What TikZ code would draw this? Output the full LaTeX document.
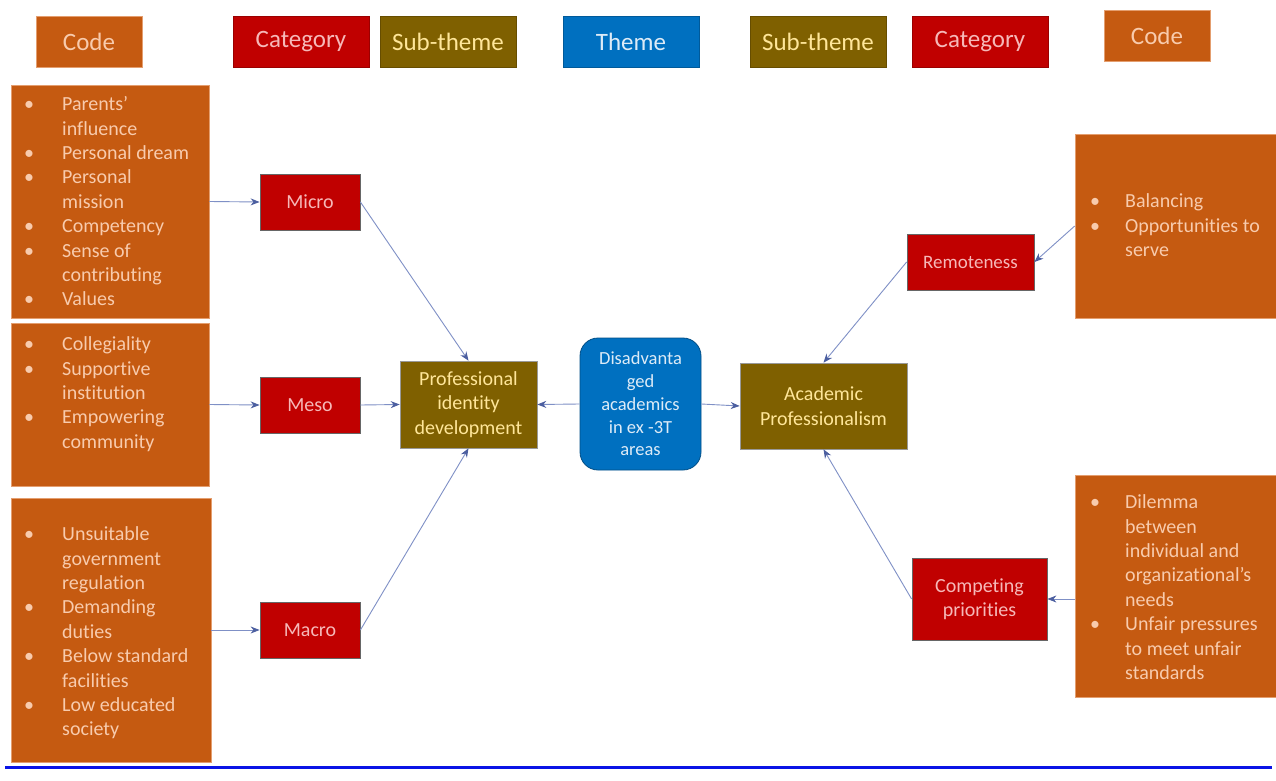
\documentclass[tikz,border=0pt]{standalone}
\usepackage{fontspec}
\setmainfont[Ligatures={NoCommon,NoRequired,NoContextual,NoRare}]{Carlito}
\usetikzlibrary{arrows.meta,calc}
\definecolor{codeC}{HTML}{C55A11}
\definecolor{codeT}{HTML}{F8CBAD}
\definecolor{catC}{HTML}{C00000}
\definecolor{catT}{HTML}{F6B8B8}
\definecolor{subC}{HTML}{7F6000}
\definecolor{subT}{HTML}{FFE699}
\definecolor{themeC}{HTML}{0070C0}
\definecolor{themeT}{HTML}{DDEBF7}
\definecolor{lineC}{HTML}{7F90C6}
\definecolor{tipC}{HTML}{4C5FA0}
\definecolor{rule}{HTML}{0A14E6}
\newcommand{\bulL}[1]{\makebox[38pt][l]{\textbullet}#1}
\newcommand{\conL}[1]{\hspace*{38pt}#1}
\newcommand{\bulR}[1]{\makebox[35pt][l]{\textbullet}#1}
\newcommand{\conR}[1]{\hspace*{35pt}#1}
\begin{document}
\begin{tikzpicture}[x=1pt,y=-1pt,
  base/.style={inner sep=0pt, align=center},
  hdr/.style={base, minimum height=51pt, font=\fontsize{25}{30}\selectfont},
  codebox/.style={base, fill=codeC, draw=codeT!60!codeC, line width=0.6pt},
  codehdr/.style={hdr, codebox, text=codeT, minimum width=106pt},
  cathdr/.style={hdr, fill=catC, draw=catC!80!black, line width=0.6pt, text=catT, minimum width=136pt},
  subhdr/.style={hdr, fill=subC, draw=subC!80!black, line width=0.6pt, text=subT, minimum width=136pt},
  themehdr/.style={hdr, fill=themeC, draw=themeC!80!black, line width=0.6pt, text=themeT, minimum width=136pt},
  listtxt/.style={inner sep=0pt, anchor=north west, align=left, text=codeT, font=\fontsize{20}{24.4}\selectfont},
  catbox/.style={base, fill=catC, draw=black!60, line width=0.8pt, text=catT, font=\fontsize{20}{24.4}\selectfont, minimum height=56pt},
  subbox/.style={base, fill=subC, draw=black!40, line width=0.6pt, text=subT, font=\fontsize{20}{24.4}\selectfont},
  themebox/.style={base, fill=themeC, draw=themeC!70!black, line width=0.8pt, rounded corners=18pt, text=themeT, font=\fontsize{18.5}{22.7}\selectfont},
  conn/.style={draw=lineC, line width=0.9pt, -{Stealth[length=9pt,width=7pt,color=tipC]}}
]
\useasboundingbox (0,0) rectangle (1276,781);
\fill[white] (0,0) rectangle (1276,781);

% header row
\node[codehdr] (hcodeL) at (89,41.5) {Code};
\node[cathdr] (hcatL) at (301,41.5) {Category};
\node[subhdr] (hsubL) at (448,41.5) {Sub-theme};
\node[themehdr] (htheme) at (631,41.5) {Theme};
\node[subhdr] (hsubR) at (818,41.5) {Sub-theme};
\node[cathdr] (hcatR) at (980,41.5) {Category};
\node[codehdr] (hcodeR) at (1157,35.5) {Code};

% left code boxes
\node[codebox, minimum width=198pt, minimum height=233pt] (c1) at (110,201.5) {};
\node[codebox, minimum width=198pt, minimum height=163pt] (c2) at (110,404.5) {};
\node[codebox, minimum width=200pt, minimum height=264pt] (c3) at (111,630) {};
\node[listtxt] (t1) at (24,93.5) {\strut\bulL{Parents'}\\\strut\conL{influence}\\\strut\bulL{Personal dream}\\\strut\bulL{Personal}\\\strut\conL{mission}\\\strut\bulL{Competency}\\\strut\bulL{Sense of}\\\strut\conL{contributing}\\\strut\bulL{Values}};
\node[listtxt] (t2) at (24,333.5) {\strut\bulL{Collegiality}\\\strut\bulL{Supportive}\\\strut\conL{institution}\\\strut\bulL{Empowering}\\\strut\conL{community}};
\node[listtxt] (t3) at (24,523.5) {\strut\bulL{Unsuitable}\\\strut\conL{government}\\\strut\conL{regulation}\\\strut\bulL{Demanding}\\\strut\conL{duties}\\\strut\bulL{Below standard}\\\strut\conL{facilities}\\\strut\bulL{Low educated}\\\strut\conL{society}};

% right code boxes
\node[codebox, minimum width=201pt, minimum height=184pt] (r1) at (1175.5,226) {};
\node[codebox, minimum width=201pt, minimum height=222pt] (r2) at (1175.5,586) {};
\node[listtxt] (t4) at (1090,190.5) {\strut\bulR{Balancing}\\\strut\bulR{Opportunities to}\\\strut\conR{serve}};
\node[listtxt] (t5) at (1090,491.5) {\strut\bulR{Dilemma}\\\strut\conR{between}\\\strut\conR{individual and}\\\strut\conR{organizational's}\\\strut\conR{needs}\\\strut\bulR{Unfair pressures}\\\strut\conR{to meet unfair}\\\strut\conR{standards}};

% categories
\node[catbox, minimum width=100pt] (micro) at (310,202) {Micro};
\node[catbox, minimum width=100pt] (meso) at (310,405) {Meso};
\node[catbox, minimum width=100pt] (macro) at (310,630) {Macro};
\node[catbox, minimum width=127pt, font=\fontsize{19}{23}\selectfont] (rem) at (970.5,262) {Remoteness};
\node[catbox, minimum width=135pt, minimum height=82pt] (comp) at (979.5,599) {Competing\\priorities};

% sub-themes
\node[subbox, minimum width=137pt, minimum height=87pt] (pid) at (468.5,404.5) {Professional\\identity\\development};
\node[subbox, minimum width=167pt, minimum height=86pt] (ap) at (823.5,406) {Academic\\Professionalism};

% theme
\node[themebox, minimum width=121pt, minimum height=132pt] (theme) at (640.5,404) {Disadvanta\\ged\\academics\\in ex -3T\\areas};

% connectors
\draw[conn] (c1.east) -- (micro.west);
\draw[conn] (c2.east) -- (meso.west);
\draw[conn] (c3.east) -- (macro.west);
\draw[conn] (micro.east) -- (pid.north);
\draw[conn] (meso.east) -- (pid.west);
\draw[conn] (macro.east) -- (pid.south);
\draw[conn] (theme.west) -- (pid.east);
\draw[conn] (theme.east) -- (ap.west);
\draw[conn] (r1.west) -- (rem.east);
\draw[conn] (rem.west) -- (ap.north);
\draw[conn] (comp.west) -- (ap.south);
\draw[conn] (r2.west |- comp.east) -- (comp.east);

% bottom rule
\draw[rule, line width=3pt] (5,767) -- (1272,767);
\end{tikzpicture}
\end{document}
